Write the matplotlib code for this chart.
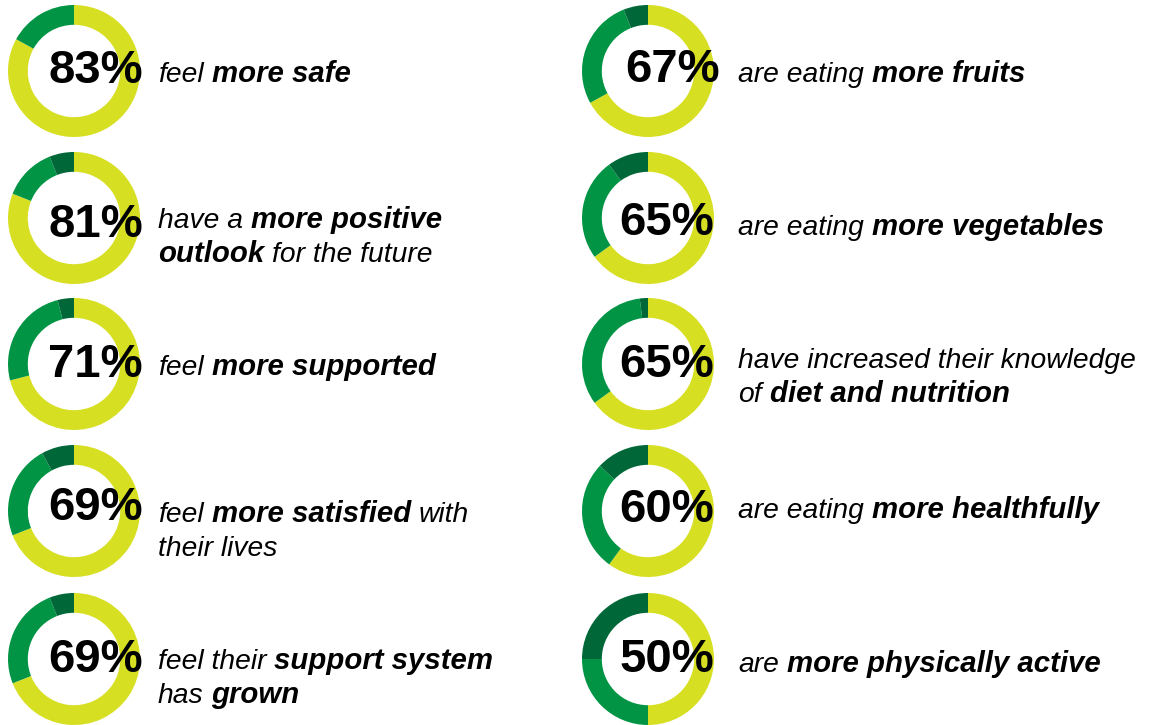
import matplotlib
matplotlib.use("Agg")
import matplotlib.pyplot as plt

# Survey results: share who agree (yellow), plus the two remaining answer groups
pcts = [83, 81, 71, 69, 69, 67, 65, 65, 60, 50]
mid_share = [17, 13, 25, 23, 25, 27, 25, 33, 27, 25]
dark_share = [0, 6, 4, 8, 6, 6, 10, 2, 13, 25]

# Statement next to each ring: lines of (text, bold) runs
labels = [
    [[("feel ", False), ("more safe", True)]],
    [[("have a ", False), ("more positive", True)],
     [("outlook", True), (" for the future", False)]],
    [[("feel ", False), ("more supported", True)]],
    [[("feel ", False), ("more satisfied", True), (" with", False)],
     [("their lives", False)]],
    [[("feel their ", False), ("support system", True)],
     [("has ", False), ("grown", True)]],
    [[("are eating ", False), ("more fruits", True)]],
    [[("are eating ", False), ("more vegetables", True)]],
    [[("have increased their knowledge", False)],
     [("of ", False), ("diet and nutrition", True)]],
    [[("are eating ", False), ("more healthfully", True)]],
    [[("are ", False), ("more physically active", True)]],
]

YELLOW = "#D7DF23"
GREEN = "#009444"
DARK = "#006838"

W, H = 1155, 725
fig = plt.figure(figsize=(W / 100, H / 100), dpi=100)
fig.patch.set_facecolor("white")
plt.rcParams["font.family"] = ["Liberation Sans", "DejaVu Sans"]

# layout in pixels
col_cx = [74, 648]
row_cy = [71, 218, 364, 511, 659]
radius = 66
pct_right = [143, 143, 143, 143, 143, 720, 714, 714, 714, 714]
pct_base = [83, 237, 377, 520, 672, 82, 235, 377, 522, 672]
label_x = [158, 738]
label_base = [82, 228, 375, 522, 669, 82, 235, 368, 518, 672]
line_gap = 34
SIZE = {False: 20.3, True: 21.2}

renderer = fig.canvas.get_renderer()


def space_width(bold):
    kw = dict(fontsize=SIZE[bold], style="italic",
              fontweight="bold" if bold else "normal")
    t1 = fig.text(0, 0, "n n", **kw)
    t2 = fig.text(0, 0, "nn", **kw)
    w = t1.get_window_extent(renderer).width - t2.get_window_extent(renderer).width
    t1.remove()
    t2.remove()
    return w


SPACE = {False: space_width(False), True: space_width(True)}


def draw_runs(x, y, runs):
    # x, y in pixels from top-left; y is the baseline
    for text, bold in runs:
        if text.startswith(" "):
            x += SPACE[bold]
        core = text.strip()
        t = fig.text(x / W, 1 - y / H, core, fontsize=SIZE[bold], style="italic",
                     fontweight="bold" if bold else "normal",
                     ha="left", va="baseline", color="black")
        x = t.get_window_extent(renderer).x1
        if text.endswith(" "):
            x += SPACE[bold]


for i, pct in enumerate(pcts):
    col, row = divmod(i, 5)
    cx, cy = col_cx[col], row_cy[row]
    ax = fig.add_axes([(cx - radius) / W, 1 - (cy + radius) / H,
                       2 * radius / W, 2 * radius / H])
    ax.pie([pct, mid_share[i], dark_share[i]], colors=[YELLOW, GREEN, DARK],
           startangle=90, counterclock=False, radius=1,
           wedgeprops=dict(width=0.30, linewidth=0))
    ax.set_xlim(-1, 1)
    ax.set_ylim(-1, 1)
    ax.set_aspect("equal")
    ax.axis("off")

    fig.text(pct_right[i] / W, 1 - pct_base[i] / H, f"{pct}%",
             fontsize=34, fontweight="bold", ha="right", va="baseline",
             color="black")

    for k, line in enumerate(labels[i]):
        draw_runs(label_x[col], label_base[i] + k * line_gap, line)

fig.savefig("out.png", dpi=100, facecolor="white")
